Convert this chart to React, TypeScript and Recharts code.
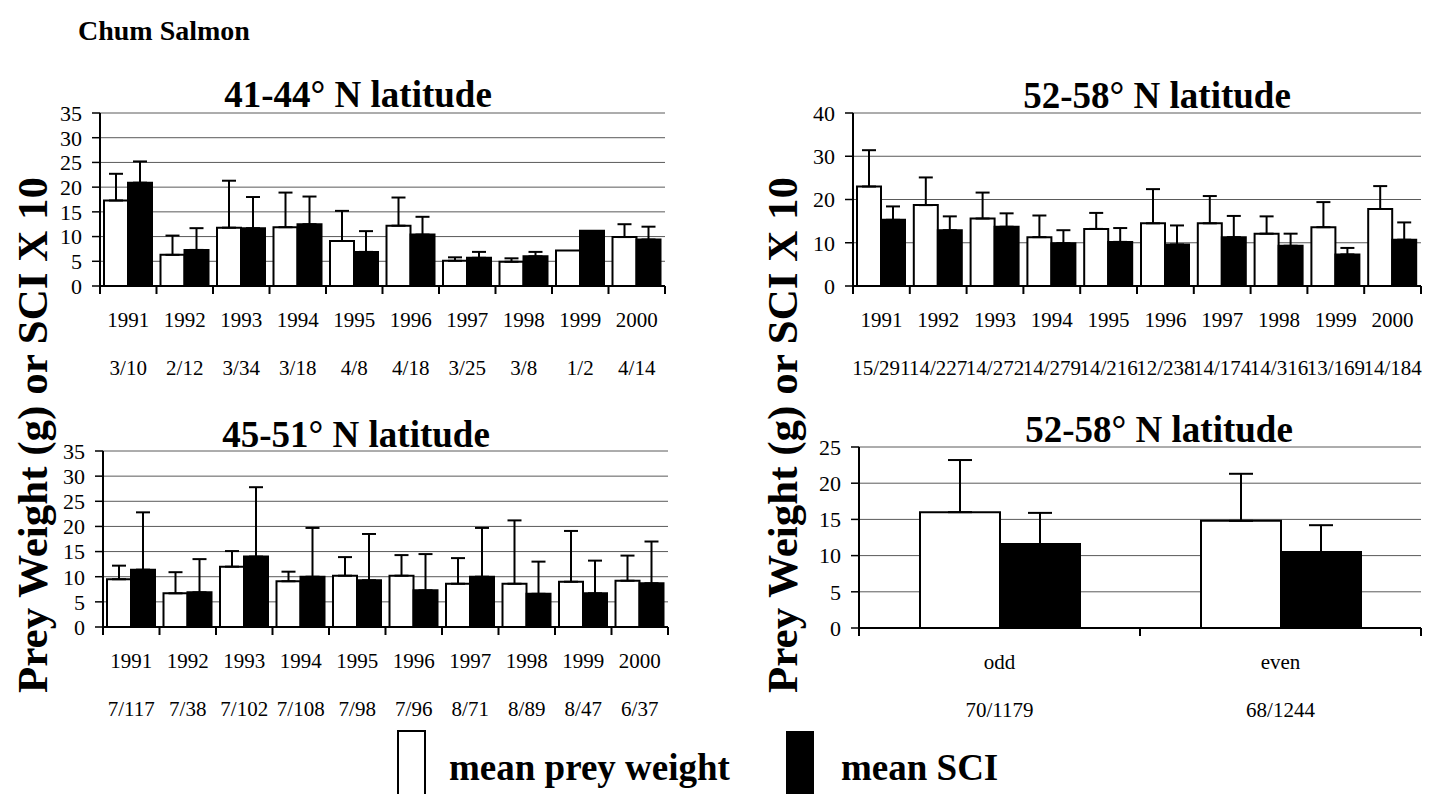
import { Bar, BarChart, CartesianGrid, ErrorBar, XAxis, YAxis } from 'recharts'

const serif = 'Liberation Serif, Times New Roman, DejaVu Serif, serif'

const years = ['1991', '1992', '1993', '1994', '1995', '1996', '1997', '1998', '1999', '2000']

// 41-44° N latitude
const southN = ['3/10', '2/12', '3/34', '3/18', '4/8', '4/18', '3/25', '3/8', '1/2', '4/14']
const southPrey = [17.3, 6.3, 11.8, 11.9, 9.1, 12.2, 5.1, 4.9, 7.2, 9.9]
const southPreyErr = [5.4, 3.9, 9.5, 7.0, 6.1, 5.7, 0.7, 0.7, null, 2.6]
const southSci = [20.9, 7.3, 11.7, 12.5, 6.9, 10.4, 5.7, 6.0, 11.2, 9.4]
const southSciErr = [4.3, 4.4, 6.3, 5.6, 4.2, 3.6, 1.2, 0.9, null, 2.6]

// 45-51° N latitude
const midN = ['7/117', '7/38', '7/102', '7/108', '7/98', '7/96', '8/71', '8/89', '8/47', '6/37']
const midPrey = [9.5, 6.7, 12.0, 9.1, 10.2, 10.2, 8.6, 8.6, 9.0, 9.2]
const midPreyErr = [2.7, 4.2, 3.1, 1.9, 3.7, 4.1, 5.1, 12.6, 10.1, 5.0]
const midSci = [11.4, 6.9, 14.0, 10.0, 9.3, 7.3, 10.0, 6.6, 6.7, 8.7]
const midSciErr = [11.4, 6.6, 13.8, 9.7, 9.2, 7.2, 9.7, 6.4, 6.5, 8.3]

// 52-58° N latitude, by year
const northN = ['15/291', '14/227', '14/272', '14/279', '14/216', '12/238', '14/174', '14/316', '13/169', '14/184']
const northPrey = [23.0, 18.7, 15.6, 11.3, 13.2, 14.5, 14.5, 12.1, 13.6, 17.8]
const northPreyErr = [8.4, 6.4, 6.0, 5.0, 3.7, 7.9, 6.3, 4.0, 5.8, 5.3]
const northSci = [15.3, 12.9, 13.7, 9.9, 10.2, 9.6, 11.3, 9.3, 7.3, 10.7]
const northSciErr = [3.1, 3.2, 3.1, 3.0, 3.2, 4.4, 4.9, 2.8, 1.5, 4.0]

// 52-58° N latitude, odd / even years
const parity = ['odd', 'even']
const parityN = ['70/1179', '68/1244']
const parityPrey = [16.0, 14.8]
const parityPreyErr = [7.2, 6.5]
const paritySci = [11.6, 10.5]
const paritySciErr = [4.3, 3.7]

const ticks35 = [0, 5, 10, 15, 20, 25, 30, 35]
const ticks40 = [0, 10, 20, 30, 40]
const ticks25 = [0, 5, 10, 15, 20, 25]

type Row = {
  cat: string
  n: string
  prey: number
  preyErr: number[] | null
  sci: number
  sciErr: number[] | null
}

function buildRows(
  cats: string[],
  ns: string[],
  prey: number[],
  preyErr: (number | null)[],
  sci: number[],
  sciErr: (number | null)[],
): Row[] {
  // error bars go up only
  return cats.map((cat, i) => ({
    cat,
    n: ns[i],
    prey: prey[i],
    preyErr: preyErr[i] == null ? null : [0, preyErr[i] as number],
    sci: sci[i],
    sciErr: sciErr[i] == null ? null : [0, sciErr[i] as number],
  }))
}

const txt = { fontFamily: serif }

function CatTick(props: any) {
  const { x, y, payload, index, counts, count, band } = props
  const half = payload && payload.offset ? payload.offset : band / 2
  return (
    <g>
      <line x1={x - half} x2={x - half} y1={y} y2={y + 8} stroke="#000" strokeWidth={2} />
      {index === count - 1 && (
        <line x1={x + half} x2={x + half} y1={y} y2={y + 8} stroke="#000" strokeWidth={2} />
      )}
      <text x={x} y={y + 41} textAnchor="middle" fontSize={21} style={txt} fill="#000">
        {payload.value}
      </text>
      <text x={x} y={y + 89} textAnchor="middle" fontSize={21} style={txt} fill="#000">
        {counts[index]}
      </text>
    </g>
  )
}

function Panel({
  rows,
  plot,
  yMax,
  yTicks,
  barSize,
  cap,
}: {
  rows: Row[]
  plot: { l: number; r: number; t: number; b: number }
  yMax: number
  yTicks: number[]
  barSize: number
  cap: number
}) {
  const padL = 70
  const padT = 20
  const padR = 20
  const axisH = 110
  const w = plot.r - plot.l + padL + padR
  const h = plot.b - plot.t + padT + axisH
  const band = (plot.r - plot.l) / rows.length
  const line = { stroke: '#000', strokeWidth: 2 }

  return (
    <div style={{ position: 'absolute', left: plot.l - padL, top: plot.t - padT }}>
      <BarChart
        width={w}
        height={h}
        data={rows}
        margin={{ top: padT, right: padR, bottom: 0, left: 0 }}
        barGap={0}
        barSize={barSize}
        style={txt}
      >
        <CartesianGrid vertical={false} stroke="#5a5a5a" strokeWidth={1} />
        <XAxis
          dataKey="cat"
          interval={0}
          height={axisH}
          tickSize={0}
          tickMargin={0}
          tickLine={false}
          axisLine={line}
          tick={<CatTick counts={rows.map((r) => r.n)} count={rows.length} band={band} />}
        />
        <XAxis xAxisId="top" orientation="top" dataKey="cat" height={0} tick={false} tickLine={false} axisLine={line} />
        <YAxis
          domain={[0, yMax]}
          ticks={yTicks}
          interval={0}
          width={padL}
          tickSize={8}
          tickMargin={10}
          axisLine={line}
          tickLine={{ stroke: '#000', strokeWidth: 1.5 }}
          tick={{ fontSize: 22, fill: '#000', fontFamily: serif, style: txt }}
        />
        <YAxis
          yAxisId="right"
          orientation="right"
          domain={[0, yMax]}
          width={0}
          tick={false}
          tickLine={false}
          axisLine={line}
        />
        <Bar dataKey="prey" fill="#fff" stroke="#000" strokeWidth={2} isAnimationActive={false}>
          <ErrorBar dataKey="preyErr" direction="y" width={cap} stroke="#000" strokeWidth={2} />
        </Bar>
        <Bar dataKey="sci" fill="#000" stroke="#000" strokeWidth={2} isAnimationActive={false}>
          <ErrorBar dataKey="sciErr" direction="y" width={cap} stroke="#000" strokeWidth={2} />
        </Bar>
      </BarChart>
    </div>
  )
}

const yLabel = 'Prey Weight (g) or SCI X 10'

export default function App() {
  const south = buildRows(years, southN, southPrey, southPreyErr, southSci, southSciErr)
  const mid = buildRows(years, midN, midPrey, midPreyErr, midSci, midSciErr)
  const north = buildRows(years, northN, northPrey, northPreyErr, northSci, northSciErr)
  const odd = buildRows(parity, parityN, parityPrey, parityPreyErr, paritySci, paritySciErr)

  const bold = { fontFamily: serif, fontWeight: 700 }

  return (
    <div
      style={{
        position: 'absolute',
        left: 0,
        top: 0,
        width: 1452,
        height: 794,
        background: '#fff',
        overflow: 'hidden',
        fontFamily: serif,
      }}
    >
      <Panel rows={south} plot={{ l: 100, r: 665, t: 113, b: 286 }} yMax={35} yTicks={ticks35} barSize={24} cap={7} />
      <Panel rows={north} plot={{ l: 853, r: 1421, t: 113, b: 286 }} yMax={40} yTicks={ticks40} barSize={24} cap={7} />
      <Panel rows={mid} plot={{ l: 103, r: 668, t: 451, b: 627 }} yMax={35} yTicks={ticks35} barSize={24} cap={7} />
      <Panel rows={odd} plot={{ l: 859, r: 1421, t: 447, b: 628 }} yMax={25} yTicks={ticks25} barSize={80} cap={12} />

      <svg width={1452} height={794} style={{ position: 'absolute', left: 0, top: 0, pointerEvents: 'none' }}>
        <g fill="#000">
          <text x={78} y={40} fontSize={28} style={bold}>Chum Salmon</text>
          <text x={358} y={107} fontSize={37} textAnchor="middle" style={bold}>41-44° N latitude</text>
          <text x={1157} y={108} fontSize={37} textAnchor="middle" style={bold}>52-58° N latitude</text>
          <text x={356} y={447} fontSize={37} textAnchor="middle" style={bold}>45-51° N latitude</text>
          <text x={1159} y={442} fontSize={37} textAnchor="middle" style={bold}>52-58° N latitude</text>
          <text
            x={32}
            y={435}
            fontSize={43}
            textAnchor="middle"
            dominantBaseline="central"
            transform="rotate(-90 32 435)"
            style={bold}
          >
            {yLabel}
          </text>
          <text
            x={782}
            y={435}
            fontSize={43}
            textAnchor="middle"
            dominantBaseline="central"
            transform="rotate(-90 782 435)"
            style={bold}
          >
            {yLabel}
          </text>
          <rect x={398} y={731} width={27} height={70} fill="#fff" stroke="#000" strokeWidth={2} />
          <text x={449} y={780} fontSize={37} style={bold}>mean prey weight</text>
          <rect x={786} y={731} width={28} height={70} fill="#000" />
          <text x={841} y={780} fontSize={37} style={bold}>mean SCI</text>
        </g>
      </svg>
    </div>
  )
}
